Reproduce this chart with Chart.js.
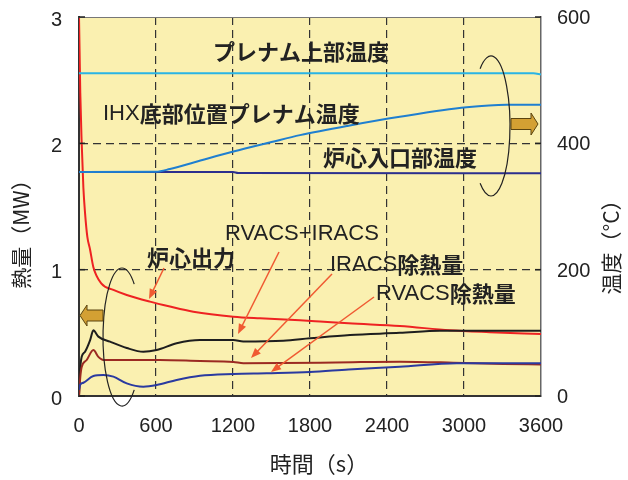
<!DOCTYPE html>
<html>
<head>
<meta charset="utf-8">
<script src="https://cdn.jsdelivr.net/npm/chart.js@4.4.0/dist/chart.umd.min.js"></script>
<style>
  html, body { margin: 0; padding: 0; background: #fff; }
  #wrap { width: 628px; height: 480px; }
</style>
</head>
<body>
<div id="wrap"><canvas id="chart" width="628" height="480"></canvas></div>
<script>
// 軸
const xTicks = [0, 600, 1200, 1800, 2400, 3000, 3600];
const heatTicks = [0, 1, 2, 3];
const tempTicks = [0, 200, 400, 600];

// 炉心出力 (MW)
const powerTime = [0, 5, 10, 20, 34, 47, 65, 86, 112, 175, 268, 372, 553, 700, 891, 1203, 1410, 1722, 1878, 2100, 2500, 2890, 3200, 3600];
const powerMW = [3.0, 2.7, 2.4, 2.03, 1.65, 1.45, 1.26, 1.16, 1.02, 0.89, 0.84, 0.80, 0.747, 0.71, 0.667, 0.628, 0.615, 0.60, 0.59, 0.575, 0.554, 0.52, 0.505, 0.49];

// RVACS+IRACS (MW)
const totalTime = [0, 10, 21, 47, 86, 112, 151, 242, 372, 501, 605, 761, 943, 1203, 1280, 1592, 1800, 2112, 2500, 2813, 3200, 3600];
const totalMW = [0, 0.22, 0.31, 0.35, 0.44, 0.52, 0.47, 0.43, 0.38, 0.35, 0.364, 0.417, 0.443, 0.443, 0.432, 0.438, 0.457, 0.483, 0.50, 0.517, 0.517, 0.517];

// IRACS除熱量 (MW)
const iracsTime = [0, 10, 21, 60, 112, 151, 190, 400, 631, 943, 1203, 1281, 2000, 2500, 2915, 3305, 3600];
const iracsMW = [0, 0.15, 0.23, 0.285, 0.364, 0.31, 0.285, 0.285, 0.285, 0.277, 0.27, 0.259, 0.265, 0.272, 0.264, 0.253, 0.25];

// RVACS除熱量 (MW)
const rvacsTime = [0, 8, 34, 112, 190, 268, 372, 501, 605, 761, 943, 1203, 1463, 1800, 2100, 2500, 2943, 3600];
const rvacsMW = [0.05, 0.087, 0.105, 0.158, 0.166, 0.153, 0.10, 0.074, 0.087, 0.127, 0.16, 0.174, 0.18, 0.19, 0.21, 0.232, 0.26, 0.26];

// プレナム上部温度 (℃)
const upperTime = [0, 3540, 3600];
const upperTemp = [511, 511, 509];

// IHX底部位置プレナム温度 (℃)
const ihxTime = [0, 600, 709, 900, 1203, 1500, 1722, 2100, 2500, 3020, 3332, 3600];
const ihxTemp = [354.5, 355, 359.4, 370, 387, 402, 413, 428, 442, 457, 461, 461];

// 炉心入口部温度 (℃)
const inletTime = [0, 1200, 1240, 3600];
const inletTemp = [354.5, 354.5, 353, 352.5];

const zip = (xs, ys) => xs.map((x, i) => ({ x: x, y: ys[i] }));

function line(data, color, axis, width) {
  return {
    data: data,
    yAxisID: axis,
    borderColor: color,
    borderWidth: width || 2,
    pointRadius: 0,
    fill: false,
    cubicInterpolationMode: "monotone",
  };
}

const tickFont = { family: "'Liberation Sans', Arial, sans-serif", size: 20 };
const plain = (v) => String(v);
const JP = "'Noto Sans CJK JP', sans-serif";
const LAT = "'Liberation Sans', Arial, sans-serif";
const clear = "rgba(0,0,0,0)";

function hideEdge(min, max) {
  return (c) => (c.tick && (c.tick.value === min || c.tick.value === max)) ? clear : "#333";
}

function arrow(ctx, x1, y1, x2, y2) {
  const a = Math.atan2(y2 - y1, x2 - x1);
  ctx.beginPath();
  ctx.moveTo(x1, y1);
  ctx.lineTo(x2 - 7 * Math.cos(a), y2 - 7 * Math.sin(a));
  ctx.stroke();
  ctx.beginPath();
  ctx.moveTo(x2, y2);
  ctx.lineTo(x2 - 10 * Math.cos(a) + 4 * Math.sin(a), y2 - 10 * Math.sin(a) - 4 * Math.cos(a));
  ctx.lineTo(x2 - 10 * Math.cos(a) - 4 * Math.sin(a), y2 - 10 * Math.sin(a) + 4 * Math.cos(a));
  ctx.closePath();
  ctx.fill();
}

function runs(ctx, x, y, parts) {
  parts.forEach(([text, bold, latin]) => {
    ctx.font = (bold ? "bold " : "") + "22px " + (latin ? LAT : JP);
    ctx.fillText(text, x, y);
    x += ctx.measureText(text).width;
  });
}

function vtext(ctx, text, x, y, font) {
  ctx.save();
  ctx.translate(x, y);
  ctx.rotate(-Math.PI / 2);
  ctx.font = font;
  ctx.textAlign = "center";
  ctx.textBaseline = "middle";
  ctx.fillText(text, 0, 0);
  ctx.restore();
}

const decor = {
  id: "decor",
  beforeDraw(chart) {
    const { ctx, chartArea: a } = chart;
    ctx.save();
    ctx.fillStyle = "#FAF0B0";
    ctx.fillRect(a.left, a.top, a.right - a.left, a.bottom - a.top);
    ctx.restore();
  },
  afterDraw(chart) {
    const { ctx, chartArea: a, scales } = chart;
    ctx.save();

    // 上辺と内向き目盛
    ctx.strokeStyle = "#777";
    ctx.lineWidth = 1;
    ctx.beginPath();
    ctx.moveTo(a.left, a.top + 0.5);
    ctx.lineTo(a.right, a.top + 0.5);
    ctx.stroke();
    ctx.strokeStyle = "#222";
    ctx.lineWidth = 1.5;
    heatTicks.forEach((v) => {
      const y = scales.y.getPixelForValue(v);
      ctx.beginPath(); ctx.moveTo(a.left, y); ctx.lineTo(a.left + 6, y); ctx.stroke();
    });
    tempTicks.forEach((v) => {
      const y = scales.y2.getPixelForValue(v);
      ctx.beginPath(); ctx.moveTo(a.right, y); ctx.lineTo(a.right - 6, y); ctx.stroke();
    });

    // 楕円
    ctx.strokeStyle = "#222";
    ctx.lineWidth = 1.2;
    ctx.beginPath();
    ctx.ellipse(122, 337, 19, 69, 0, 50 * Math.PI / 180, 310 * Math.PI / 180);
    ctx.stroke();
    ctx.beginPath();
    ctx.ellipse(491, 126, 19, 70, 0, -125 * Math.PI / 180, 125 * Math.PI / 180);
    ctx.stroke();

    // 軸の矢印
    ctx.fillStyle = "#D3A033";
    ctx.strokeStyle = "#5a4410";
    ctx.lineWidth = 1;
    ctx.beginPath();
    ctx.moveTo(80, 315.5);
    ctx.lineTo(87, 305);
    ctx.lineTo(87, 310);
    ctx.lineTo(103, 310);
    ctx.lineTo(103, 321);
    ctx.lineTo(87, 321);
    ctx.lineTo(87, 326);
    ctx.closePath();
    ctx.fill(); ctx.stroke();
    ctx.beginPath();
    ctx.moveTo(538, 124);
    ctx.lineTo(531, 113);
    ctx.lineTo(531, 118.5);
    ctx.lineTo(511, 118.5);
    ctx.lineTo(511, 129.5);
    ctx.lineTo(531, 129.5);
    ctx.lineTo(531, 135);
    ctx.closePath();
    ctx.fill(); ctx.stroke();

    // 指示線
    ctx.strokeStyle = "#F05A32";
    ctx.fillStyle = "#F05A32";
    ctx.lineWidth = 1.5;
    arrow(ctx, 164, 268, 149, 299);
    arrow(ctx, 279, 252, 238, 334);
    arrow(ctx, 332, 274, 251, 358);
    arrow(ctx, 374, 297, 271, 372);

    // 注記
    ctx.fillStyle = "#222";
    ctx.textAlign = "left";
    ctx.textBaseline = "middle";
    runs(ctx, 213, 52, [["プレナム上部温度", true]]);
    runs(ctx, 103, 114, [["IHX", false, true], ["底部位置プレナム温度", true]]);
    runs(ctx, 323, 157.5, [["炉心入口部温度", true]]);
    runs(ctx, 225, 233.5, [["RVACS+IRACS", false, true]]);
    runs(ctx, 147, 258, [["炉心出力", true]]);
    runs(ctx, 330, 264.5, [["IRACS", false, true], ["除熱量", true]]);
    runs(ctx, 376, 293.5, [["RVACS", false, true], ["除熱量", true]]);

    // 軸タイトル
    ctx.textAlign = "center";
    ctx.font = "22px " + JP;
    ctx.fillText("時間（s）", 319, 464);
    vtext(ctx, "熱量（MW）", 21, 229, "21px " + JP);
    vtext(ctx, "温度（°C）", 611, 242, "21px " + JP);
    ctx.restore();
  },
};

new Chart(document.getElementById("chart"), {
  type: "line",
  data: {
    datasets: [
      line(zip(upperTime, upperTemp), "#2AB4E4", "y2"),
      line(zip(ihxTime, ihxTemp), "#1F7FD0", "y2"),
      line(zip(inletTime, inletTemp), "#2B2F8E", "y2"),
      line(zip(rvacsTime, rvacsMW), "#2A3AA0", "y"),
      line(zip(iracsTime, iracsMW), "#9B2A22", "y"),
      line(zip(totalTime, totalMW), "#1E1E1E", "y"),
      line(zip(powerTime, powerMW), "#EE2222", "y"),
    ],
  },
  options: {
    responsive: false,
    animation: false,
    devicePixelRatio: 1,
    layout: { padding: { top: 17, left: 0, right: 0, bottom: 0 } },
    plugins: { legend: { display: false }, tooltip: { enabled: false } },
    scales: {
      x: {
        type: "linear",
        min: 0,
        max: 3600,
        afterFit: (s) => { s.height = 84; },
        afterBuildTicks: (s) => { s.ticks = xTicks.map((v) => ({ value: v })); },
        ticks: { font: tickFont, color: "#222", padding: 18, maxRotation: 0, callback: plain },
        grid: { color: hideEdge(0, 3600), lineWidth: 1.2, drawTicks: false },
        border: { display: true, color: "#333", width: 2, dash: [8, 5] },
      },
      y: {
        position: "left",
        min: 0,
        max: 3,
        afterFit: (s) => { s.width = 79; },
        afterBuildTicks: (s) => { s.ticks = heatTicks.map((v) => ({ value: v })); },
        ticks: { font: tickFont, color: "#222", padding: 0, labelOffset: 3, callback: plain },
        grid: { color: hideEdge(0, 3), lineWidth: 1.2, drawTicks: true, tickLength: 17, tickColor: clear },
        border: { display: true, color: "#333", width: 2, dash: [8, 5] },
      },
      y2: {
        position: "right",
        min: 0,
        max: 600,
        afterFit: (s) => { s.width = 87; },
        afterBuildTicks: (s) => { s.ticks = tempTicks.map((v) => ({ value: v })); },
        ticks: { font: tickFont, color: "#222", padding: 0, labelOffset: 1.5, callback: plain },
        grid: { display: true, drawOnChartArea: false, drawTicks: true, tickLength: 16, tickColor: clear },
        border: { display: true, color: "#666", width: 1.5 },
      },
    },
  },
  plugins: [decor],
});
</script>
</body>
</html>
